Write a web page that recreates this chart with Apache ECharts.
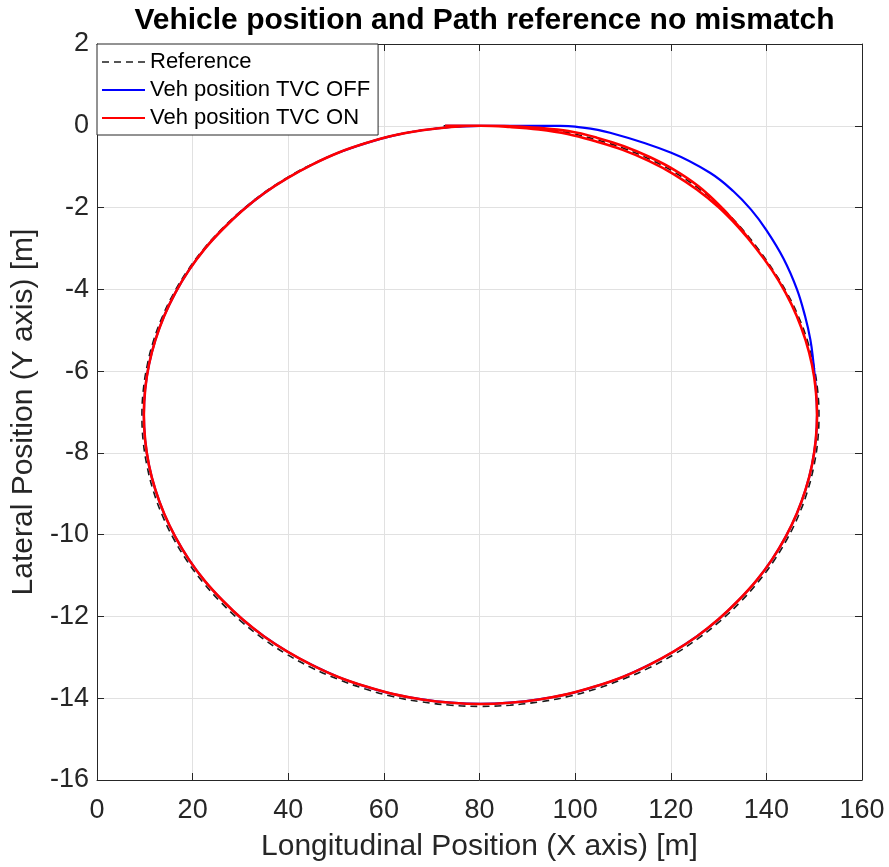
<!DOCTYPE html>
<html>
<head>
<meta charset="utf-8">
<script src="https://cdn.jsdelivr.net/npm/echarts@6/dist/echarts.min.js"></script>
<style>
  html, body { margin: 0; padding: 0; background: #fff; }
  #chart { width: 889px; height: 867px; }
</style>
</head>
<body>
<div id="chart"></div>
<script>
// Path reference: closed loop around the track, [x, y] in metres, clockwise from the start
const referencePath = [
  [72.5, 0], [80.2, 0], [86.37, -0.02], [92.49, -0.07], [98.52, -0.17], [104.41, -0.34],
  [110.12, -0.55], [115.6, -0.82], [120.81, -1.14], [125.71, -1.52], [130.26, -1.96],
  [134.43, -2.46], [138.2, -3.0], [141.51, -3.55], [144.37, -4.1], [146.73, -4.67],
  [148.59, -5.26], [149.92, -5.87], [150.73, -6.48], [151.0, -7.1], [150.73, -7.72],
  [149.92, -8.33], [148.59, -8.94], [146.73, -9.53], [144.37, -10.1], [141.51, -10.65],
  [138.2, -11.17], [134.43, -11.66], [130.26, -12.12], [125.71, -12.54], [120.81, -12.92],
  [115.6, -13.25], [110.12, -13.53], [104.41, -13.77], [98.52, -13.96], [92.49, -14.09],
  [86.37, -14.17], [80.2, -14.2], [74.03, -14.17], [67.91, -14.09], [61.88, -13.96],
  [55.99, -13.77], [50.28, -13.53], [44.8, -13.25], [39.59, -12.92], [34.69, -12.54],
  [30.14, -12.12], [25.97, -11.66], [22.2, -11.17], [18.89, -10.65], [16.03, -10.1],
  [13.67, -9.53], [11.81, -8.94], [10.48, -8.33], [9.67, -7.72], [9.4, -7.1],
  [9.67, -6.48], [10.48, -5.87], [11.81, -5.26], [13.67, -4.67], [16.03, -4.1],
  [18.89, -3.55], [22.2, -3.03], [25.97, -2.54], [30.14, -2.08], [34.69, -1.66],
  [39.59, -1.28], [44.8, -0.95], [50.28, -0.67], [55.99, -0.43], [61.88, -0.24],
  [67.91, -0.11], [74.03, -0.03], [80.2, 0]
];

// Vehicle position with torque vectoring switched off
const tvcOffPath = [
  [72.8, 0], [80.2, 0], [90.0, 0], [96.9, 0], [100.0, -0.02], [107.3, -0.17],
  [120.1, -0.66], [128.2, -1.15], [133.1, -1.6], [136.8, -2.05], [140.0, -2.55],
  [143.6, -3.25], [146.4, -4.0], [148.1, -4.66], [149.2, -5.23], [149.75, -5.7],
  [150.25, -6.3], [150.6, -7.07], [150.33, -7.69],
  [149.53, -8.30], [148.2, -8.90], [146.35, -9.49], [144.0, -10.06], [141.17, -10.61],
  [137.87, -11.13], [134.13, -11.61], [129.98, -12.07], [125.45, -12.49], [120.58, -12.86],
  [115.4, -13.19], [109.95, -13.48], [104.28, -13.71], [98.42, -13.90], [92.42, -14.03],
  [86.34, -14.11], [80.2, -14.14], [74.06, -14.11], [67.98, -14.03], [61.98, -13.90],
  [56.12, -13.71], [50.45, -13.48], [45.0, -13.19], [39.82, -12.86], [34.95, -12.49],
  [30.42, -12.07], [26.27, -11.61], [22.53, -11.13], [19.23, -10.61], [16.4, -10.06],
  [14.05, -9.49], [12.2, -8.90], [10.87, -8.30], [10.07, -7.69], [9.8, -7.07],
  [10.07, -6.45], [10.87, -5.84], [12.2, -5.24], [14.05, -4.65], [16.4, -4.08],
  [19.23, -3.53], [22.53, -3.01], [26.27, -2.53], [30.42, -2.07], [34.95, -1.65],
  [39.82, -1.28], [45.0, -0.95], [50.45, -0.66], [56.12, -0.43], [61.98, -0.24],
  [67.98, -0.11], [74.06, -0.03], [80.2, 0]
];

// Vehicle position with torque vectoring switched on (one lap plus the start of the next)
const tvcOnPath = [
  [72.8, 0], [80.2, 0], [86.34, -0.03], [92.42, -0.09], [98.42, -0.20], [104.28, -0.38],
  [109.95, -0.59], [115.4, -0.86], [120.58, -1.18], [125.45, -1.56], [129.98, -1.99],
  [134.13, -2.48], [137.87, -3.0], [141.17, -3.53], [144.0, -4.08], [146.35, -4.65],
  [148.2, -5.24], [149.53, -5.84], [150.33, -6.45], [150.6, -7.07], [150.33, -7.69],
  [149.53, -8.30], [148.2, -8.90], [146.35, -9.49], [144.0, -10.06], [141.17, -10.61],
  [137.87, -11.13], [134.13, -11.61], [129.98, -12.07], [125.45, -12.49], [120.58, -12.86],
  [115.4, -13.19], [109.95, -13.48], [104.28, -13.71], [98.42, -13.90], [92.42, -14.03],
  [86.34, -14.11], [80.2, -14.14], [74.06, -14.11], [67.98, -14.03], [61.98, -13.90],
  [56.12, -13.71], [50.45, -13.48], [45.0, -13.19], [39.82, -12.86], [34.95, -12.49],
  [30.42, -12.07], [26.27, -11.61], [22.53, -11.13], [19.23, -10.61], [16.4, -10.06],
  [14.05, -9.49], [12.2, -8.90], [10.87, -8.30], [10.07, -7.69], [9.8, -7.07],
  [10.07, -6.45], [10.87, -5.84], [12.2, -5.24], [14.05, -4.65], [16.4, -4.08],
  [19.23, -3.53], [22.53, -3.01], [26.27, -2.53], [30.42, -2.07], [34.95, -1.65],
  [39.82, -1.28], [45.0, -0.95], [50.45, -0.66], [56.12, -0.43], [61.98, -0.24],
  [67.98, -0.11], [74.06, -0.03], [80.2, 0],
  [86.4, -0.01], [92.5, -0.05], [98.6, -0.13], [104.5, -0.29], [110.2, -0.50],
  [115.7, -0.77], [120.9, -1.09], [125.8, -1.48], [130.3, -1.96], [134.5, -2.5], [136.5, -2.79]
];

const xTicks = { min: 0, max: 160, step: 20 };
const yTicks = { min: -16, max: 2, step: 2 };

const FONT = "'Liberation Sans', Arial, Helvetica, sans-serif";
const INK = '#262626';

// legend glyphs: a solid stroke and a dashed stroke
const SOLID_ICON = 'path://M0,0h44v2h-44z';
const DASH_ICON = 'path://M0,0h7v2h-7zM12,0h7v2h-7zM24,0h7v2h-7zM36,0h7v2h-7z';

const chart = echarts.init(document.getElementById('chart'), null, { renderer: 'canvas' });

const baseAxis = {
  type: 'value',
  axisLine: { show: true, onZero: false, lineStyle: { color: INK, width: 1 } },
  axisTick: { show: true, inside: true, length: 7, lineStyle: { color: INK } },
  splitLine: { show: false },
  axisLabel: { show: false }
};

chart.setOption({
  animation: false,
  backgroundColor: '#fff',
  title: {
    text: 'Vehicle position and Path reference no mismatch',
    left: 479.5,
    textAlign: 'center',
    top: 1,
    textStyle: { fontFamily: FONT, fontSize: 30, fontWeight: 'bold', color: '#000' }
  },
  grid: { left: 97, right: 27, top: 44, bottom: 86, containLabel: false },
  legend: {
    orient: 'vertical',
    left: 97,
    top: 44,
    backgroundColor: '#fff',
    borderColor: INK,
    borderWidth: 1,
    borderRadius: 0,
    padding: [7, 8, 6, 5],
    itemWidth: 43,
    itemHeight: 2.4,
    itemGap: 6,
    itemStyle: { borderWidth: 0 },
    textStyle: { fontFamily: FONT, fontSize: 22, color: '#000' },
    data: [
      { name: 'Reference', icon: DASH_ICON, itemStyle: { color: '#555555', borderWidth: 0 } },
      { name: 'Veh position TVC OFF', icon: SOLID_ICON, itemStyle: { color: '#0000ff', borderWidth: 0 } },
      { name: 'Veh position TVC ON', icon: SOLID_ICON, itemStyle: { color: '#ff0000', borderWidth: 0 } }
    ]
  },
  xAxis: [
    Object.assign({}, baseAxis, {
      position: 'bottom',
      min: xTicks.min, max: xTicks.max, interval: xTicks.step,
      axisLabel: { show: true, fontFamily: FONT, fontSize: 27, color: INK, margin: 17 },
      splitLine: { show: true, lineStyle: { color: '#e1e1e1', width: 1 } },
      name: 'Longitudinal Position (X axis) [m]',
      nameLocation: 'middle',
      nameGap: 52,
      nameTextStyle: { fontFamily: FONT, fontSize: 30, color: INK }
    }),
    Object.assign({}, baseAxis, {
      position: 'top',
      min: xTicks.min, max: xTicks.max, interval: xTicks.step
    })
  ],
  yAxis: [
    Object.assign({}, baseAxis, {
      position: 'left',
      min: yTicks.min, max: yTicks.max, interval: yTicks.step,
      axisLabel: { show: true, fontFamily: FONT, fontSize: 27, color: INK, margin: 8 },
      splitLine: { show: true, lineStyle: { color: '#e1e1e1', width: 1 } },
      name: 'Lateral Position (Y axis) [m]',
      nameLocation: 'middle',
      nameGap: 45,
      nameTextStyle: { fontFamily: FONT, fontSize: 30, color: INK }
    }),
    Object.assign({}, baseAxis, {
      position: 'right',
      min: yTicks.min, max: yTicks.max, interval: yTicks.step
    })
  ],
  series: [
    {
      name: 'Reference',
      type: 'line',
      data: referencePath,
      smooth: 0.4,
      symbol: 'none',
      showSymbol: false,
      lineStyle: { color: '#1a1a1a', width: 1.6, type: [7, 5] },
      itemStyle: { color: '#1a1a1a' },
      z: 2
    },
    {
      name: 'Veh position TVC OFF',
      type: 'line',
      data: tvcOffPath,
      smooth: 0.4,
      symbol: 'none',
      showSymbol: false,
      lineStyle: { color: '#0000ff', width: 2.2 },
      itemStyle: { color: '#0000ff' },
      z: 3
    },
    {
      name: 'Veh position TVC ON',
      type: 'line',
      data: tvcOnPath,
      smooth: 0.4,
      symbol: 'none',
      showSymbol: false,
      lineStyle: { color: '#ff0000', width: 2.6 },
      itemStyle: { color: '#ff0000' },
      z: 4
    }
  ]
});
</script>
</body>
</html>
